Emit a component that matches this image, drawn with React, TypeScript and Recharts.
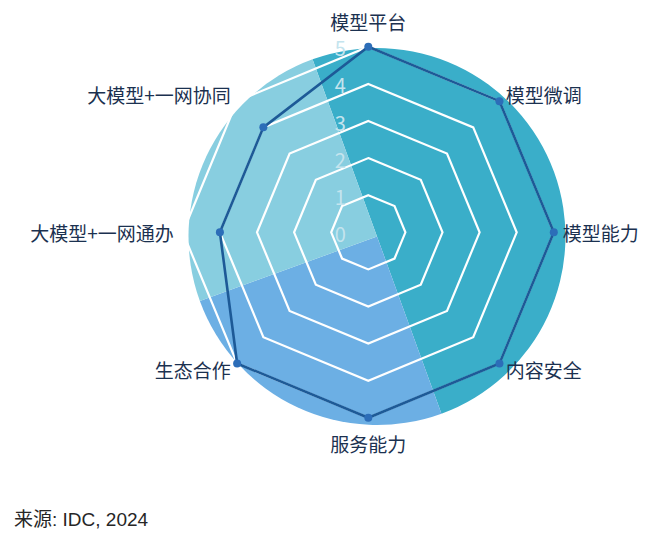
import React from 'react';
import {
  RadarChart,
  Radar,
  PolarGrid,
  PolarAngleAxis,
  PolarRadiusAxis,
  PieChart,
  Pie,
  Cell,
} from 'recharts';

const dimensions = [
  '模型平台',
  '模型微调',
  '模型能力',
  '内容安全',
  '服务能力',
  '生态合作',
  '大模型+一网通办',
  '大模型+一网协同',
];
const scores = [5, 5, 5, 5, 5, 5, 4, 4];
const radiusTicks = [0, 1, 2, 3, 4, 5];
const sectorNames = ['sectorA', 'sectorB', 'sectorC'];
const sectorShares = [50, 25, 25];
const sectorColors = ['#3aaec9', '#6cafe4', '#88cee0'];
const sourceNote = '来源: IDC, 2024';

const radarData = dimensions.map((d, i) => ({ dimension: d, score: scores[i] }));
const pieData = sectorNames.map((n, i) => ({ name: n, value: sectorShares[i] }));

const CJK = "'Noto Sans CJK SC', 'Noto Sans', sans-serif";

const AngleTick = (props: any) => {
  const { x, y, payload } = props;
  const a = (payload.coordinate * Math.PI) / 180;
  const c = Math.cos(a);
  const s = Math.sin(a);
  const anchor = Math.abs(c) < 1e-3 ? 'middle' : c > 0 ? 'start' : 'end';
  let dy = 0;
  if (s > 0.999) dy = -16.8;
  else if (s < -0.999) dy = 16.2;
  return (
    <text
      x={x}
      y={y + dy}
      textAnchor={anchor}
      dominantBaseline="central"
      fontSize={19}
      fill="#1b3150"
      fontFamily={CJK}
    >
      {payload.value}
    </text>
  );
};

const RadiusTick = (props: any) => {
  const { x, y, payload } = props;
  return (
    <text
      x={x - 28}
      y={y + 1}
      textAnchor="middle"
      dominantBaseline="central"
      fontSize={20}
      fill="#c4e4ee"
      fontFamily={CJK}
    >
      {payload.value}
    </text>
  );
};

const RadarDot = (props: any) => {
  const { cx, cy, index } = props;
  return <circle key={`dot-${index}`} cx={cx} cy={cy} r={4} fill="#2c6db8" stroke="none" />;
};

export default function App() {
  const W = 644;
  const H = 490;
  return (
    <div style={{ position: 'relative', width: W, height: 528 }}>
      <div style={{ position: 'absolute', left: 0, top: 0 }}>
        <PieChart width={W} height={H}>
          <Pie
            data={pieData}
            dataKey="value"
            nameKey="name"
            cx={364}
            cy={223.5}
            innerRadius={0}
            outerRadius={188.5}
            startAngle={110}
            endAngle={-250}
            stroke="none"
            isAnimationActive={false}
          >
            {pieData.map((d, i) => (
              <Cell key={d.name} fill={sectorColors[i]} stroke="none" />
            ))}
          </Pie>
        </PieChart>
      </div>
      <div style={{ position: 'absolute', left: 0, top: 0 }}>
        <RadarChart
          width={W}
          height={H}
          data={radarData}
          cx={360.3}
          cy={224.3}
          outerRadius={185.5}
          startAngle={90}
          endAngle={-270}
        >
          <PolarGrid
            gridType="polygon"
            radialLines={false}
            stroke="#ffffff"
            strokeWidth={2.2}
          />
          <PolarAngleAxis
            dataKey="dimension"
            tick={AngleTick}
            tickSize={9}
            tickLine={false}
            axisLine={false}
          />
          <PolarRadiusAxis
            angle={90}
            domain={[0, 5]}
            ticks={radiusTicks as any}
            tickCount={6}
            axisLine={false}
            tick={RadiusTick}
          />
          <Radar
            dataKey="score"
            stroke="#1d5a97"
            strokeWidth={2.6}
            fill="none"
            fillOpacity={0}
            dot={RadarDot}
            isAnimationActive={false}
          />
        </RadarChart>
      </div>
      <div
        style={{
          position: 'absolute',
          left: 6,
          top: 501,
          fontSize: 19,
          lineHeight: '22px',
          color: '#262626',
          fontFamily: "'Liberation Sans', 'Noto Sans CJK SC', sans-serif",
          whiteSpace: 'nowrap',
        }}
      >
        {sourceNote}
      </div>
    </div>
  );
}
